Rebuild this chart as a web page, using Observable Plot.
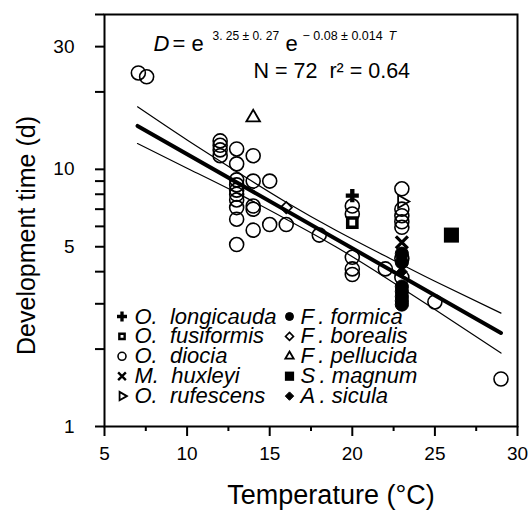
<!DOCTYPE html>
<html><head><meta charset="utf-8">
<script src="https://cdn.jsdelivr.net/npm/d3@7"></script>
<script src="https://cdn.jsdelivr.net/npm/@observablehq/plot@0.6"></script>
<style>body{margin:0;background:#fff} svg{display:block}</style>
</head><body><div id="chart"></div>
<script>
// ---------- data ----------
const dioT = [7.05, 7.55, 12, 12, 12, 12, 13, 13, 13, 13, 13, 13, 13, 13, 13, 13, 14, 14, 14, 14, 14, 15, 15, 16, 18, 20, 20, 20, 20, 20, 22, 23, 23, 23, 23, 23, 23, 23, 25, 29];
const dioD = [23.7, 22.9, 12.9, 12.4, 11.9, 11.3, 12.0, 10.5, 9.1, 8.7, 8.3, 8.0, 7.6, 7.1, 6.4, 5.1, 11.3, 9.0, 7.2, 7.0, 5.8, 9.0, 6.1, 6.1, 5.55, 7.2, 6.7, 4.55, 4.1, 3.9, 4.1, 8.4, 7.0, 6.6, 6.25, 5.95, 4.5, 3.8, 3.05, 1.53];
const formicaT = [23, 23, 23, 23, 23, 23, 23];
const formicaD = [4.7, 4.35, 3.5, 3.35, 3.2, 3.08, 2.98];
const longicaudaT = [20], longicaudaD = [7.9];
const fusiformisT = [20], fusiformisD = [6.2];
const huxleyiT = [23], huxleyiD = [5.2];
const rufescensT = [23], rufescensD = [7.5];
const borealisT = [16], borealisD = [7.1];
const pellucidaT = [14], pellucidaD = [15.9];
const magnumT = [26], magnumD = [5.55];
const siculaT = [23], siculaD = [4.0];

// fitted line and 95% band
const fitT = [7, 29];
const fitD = [14.75, 2.31];
const bandT = [7, 10, 13, 16, 19, 22, 25, 29];
const bandUpper = [17.5, 13.0, 9.8, 7.45, 5.8, 4.6, 3.67, 2.76];
const bandLower = [12.6, 10.1, 8.1, 6.4, 5.0, 3.8, 2.85, 1.93];

// axes
const xMajorTicks = [5, 10, 15, 20, 25, 30];
const xMinorTicks = [7.5, 12.5, 17.5, 22.5, 27.5];
const yTicks = [1, 2, 3, 4, 5, 6, 7, 8, 9, 10, 20, 30, 40];
const yTickLabels = [1, 5, 10, 30];

// legend labels
const legendCol1 = ["O.\u00a0\u00a0longicauda", "O.\u00a0\u00a0fusiformis", "O.\u00a0\u00a0diocia", "M.\u00a0\u00a0huxleyi", "O.\u00a0\u00a0rufescens"];
const legendCol2 = ["F\u2009.\u00a0formica", "F\u2009.\u00a0borealis", "F\u2009.\u00a0pellucida", "S\u2009.\u00a0magnum", "A\u2009.\u00a0sicula"];

// ---------- rendering ----------
const font = "'Liberation Sans', Arial, Helvetica, sans-serif";
const pts = (T, D) => T.map((t, i) => ({T: t, D: D[i]}));

const triRight = {draw(ctx, size) {
  const s = Math.sqrt(size) * 0.6824, t = s / 2, u = s * Math.sqrt(3) / 2;
  ctx.moveTo(s, 0); ctx.lineTo(-t, u); ctx.lineTo(-t, -u); ctx.closePath();
}};

// symbol styles per series (data size, legend size)
const styles = {
  longicauda: {symbol: "cross", fill: "black", stroke: "none", strokeWidth: 0, r: 5.5, lr: 4.2},
  fusiformis: {symbol: "square", fill: "white", stroke: "black", strokeWidth: 3.5, r: 5.2, lr: 3.0},
  diocia: {symbol: "circle", fill: "none", stroke: "black", strokeWidth: 1.6, r: 7, lr: 4},
  huxleyi: {symbol: "times", fill: "none", stroke: "black", strokeWidth: 3.2, r: 5.5, lr: 3.6},
  rufescens: {symbol: triRight, fill: "none", stroke: "black", strokeWidth: 1.8, r: 6.2, lr: 4},
  formica: {symbol: "circle", fill: "black", stroke: "black", strokeWidth: 1, r: 6.6, lr: 4},
  borealis: {symbol: "diamond2", fill: "none", stroke: "black", strokeWidth: 1.6, r: 5.2, lr: 3.6},
  pellucida: {symbol: "triangle2", fill: "none", stroke: "black", strokeWidth: 1.8, r: 6.5, lr: 4},
  magnum: {symbol: "square", fill: "black", stroke: "none", strokeWidth: 0, r: 8.5, lr: 5.2},
  sicula: {symbol: "diamond2", fill: "black", stroke: "black", strokeWidth: 1, r: 4.8, lr: 3.8}
};
const series = [
  ["diocia", dioT, dioD], ["formica", formicaT, formicaD], ["longicauda", longicaudaT, longicaudaD],
  ["fusiformis", fusiformisT, fusiformisD], ["huxleyi", huxleyiT, huxleyiD], ["rufescens", rufescensT, rufescensD],
  ["borealis", borealisT, borealisD], ["pellucida", pellucidaT, pellucidaD], ["magnum", magnumT, magnumD],
  ["sicula", siculaT, siculaD]
];

const marks = [];
marks.push(Plot.line(pts(bandT, bandUpper), {x: "T", y: "D", stroke: "black", strokeWidth: 1.2, curve: "natural"}));
marks.push(Plot.line(pts(bandT, bandLower), {x: "T", y: "D", stroke: "black", strokeWidth: 1.2, curve: "natural"}));
marks.push(Plot.line(pts(fitT, fitD), {x: "T", y: "D", stroke: "black", strokeWidth: 4}));
for (const [key, T, D] of series) {
  const s = styles[key];
  marks.push(Plot.dot(pts(T, D), {x: "T", y: "D", symbol: s.symbol, r: s.r, fill: s.fill, stroke: s.stroke, strokeWidth: s.strokeWidth}));
}

// legend (inside frame, lower left)
const col1Keys = ["longicauda", "fusiformis", "diocia", "huxleyi", "rufescens"];
const col2Keys = ["formica", "borealis", "pellucida", "magnum", "sicula"];
const rowStep = 19.9, row0 = 302;
[[col1Keys, legendCol1, 17.5, 30], [col2Keys, legendCol2, 185, 196]].forEach(([keys, labels, sx, tx]) => {
  keys.forEach((k, i) => {
    const s = styles[k];
    marks.push(Plot.dot([0], {frameAnchor: "top-left", dx: sx, dy: row0 + i * rowStep, symbol: s.symbol, r: s.lr,
      fill: s.fill, stroke: s.stroke, strokeWidth: s.strokeWidth > 2 ? 2.4 : s.strokeWidth}));
    marks.push(Plot.text([labels[i]], {frameAnchor: "top-left", dx: tx, dy: row0 + i * rowStep, text: d => d,
      textAnchor: "start", lineAnchor: "middle", fontSize: 22, fontStyle: "italic", fill: "black"}));
  });
});

// equation annotation
const eq = (txt, dx, dy, size, italic) => Plot.text([txt], {frameAnchor: "top-left", dx, dy, text: d => d,
  textAnchor: "start", lineAnchor: "bottom", fontSize: size, fontStyle: italic ? "italic" : "normal", fill: "black"});
marks.push(eq("D", 49, 36, 22, true));
marks.push(eq("= e", 68, 36, 22, false));
marks.push(eq("3. 25 \u00b1 0. 27", 108, 25, 12, false));
marks.push(eq("e", 181, 36, 22, false));
marks.push(eq("\u2212 0.08 \u00b1 0.014", 198, 25, 12.5, false));
marks.push(eq("T", 284, 25, 12.5, true));
marks.push(eq("N = 72  r\u00b2 = 0.64", 149, 63, 21.5, false));

// axes
marks.push(Plot.axisX({ticks: xMajorTicks, tickSize: 10, tickPadding: 10, fontSize: 19, label: null, strokeWidth: 2}));
marks.push(Plot.axisX({ticks: xMinorTicks, tickSize: 5, tickFormat: () => "", label: null, strokeWidth: 2}));
marks.push(Plot.axisY({ticks: yTicks, tickSize: 9, tickPadding: 21, fontSize: 19, label: null, strokeWidth: 2,
  tickFormat: d => yTickLabels.includes(d) ? String(d) : ""}));
marks.push(Plot.frame({stroke: "black", strokeWidth: 2}));

// axis titles
marks.push(Plot.text(["Temperature (\u00b0C)"], {frameAnchor: "bottom", dx: 20, dy: 77, text: d => d,
  textAnchor: "middle", lineAnchor: "bottom", fontSize: 27, fill: "black"}));
marks.push(Plot.text(["Development time (d)"], {frameAnchor: "left", dx: -78, dy: 15, text: d => d,
  rotate: -90, textAnchor: "middle", lineAnchor: "middle", fontSize: 25, fill: "black"}));

const chart = Plot.plot({
  width: 528, height: 515,
  marginLeft: 104, marginRight: 11, marginTop: 14, marginBottom: 89,
  style: {fontFamily: font, fontSize: "19px", color: "black", background: "white"},
  x: {domain: [5, 30], axis: null},
  y: {type: "log", domain: [1, 40], axis: null},
  marks
});
document.getElementById("chart").appendChild(chart);
</script>
</body></html>
